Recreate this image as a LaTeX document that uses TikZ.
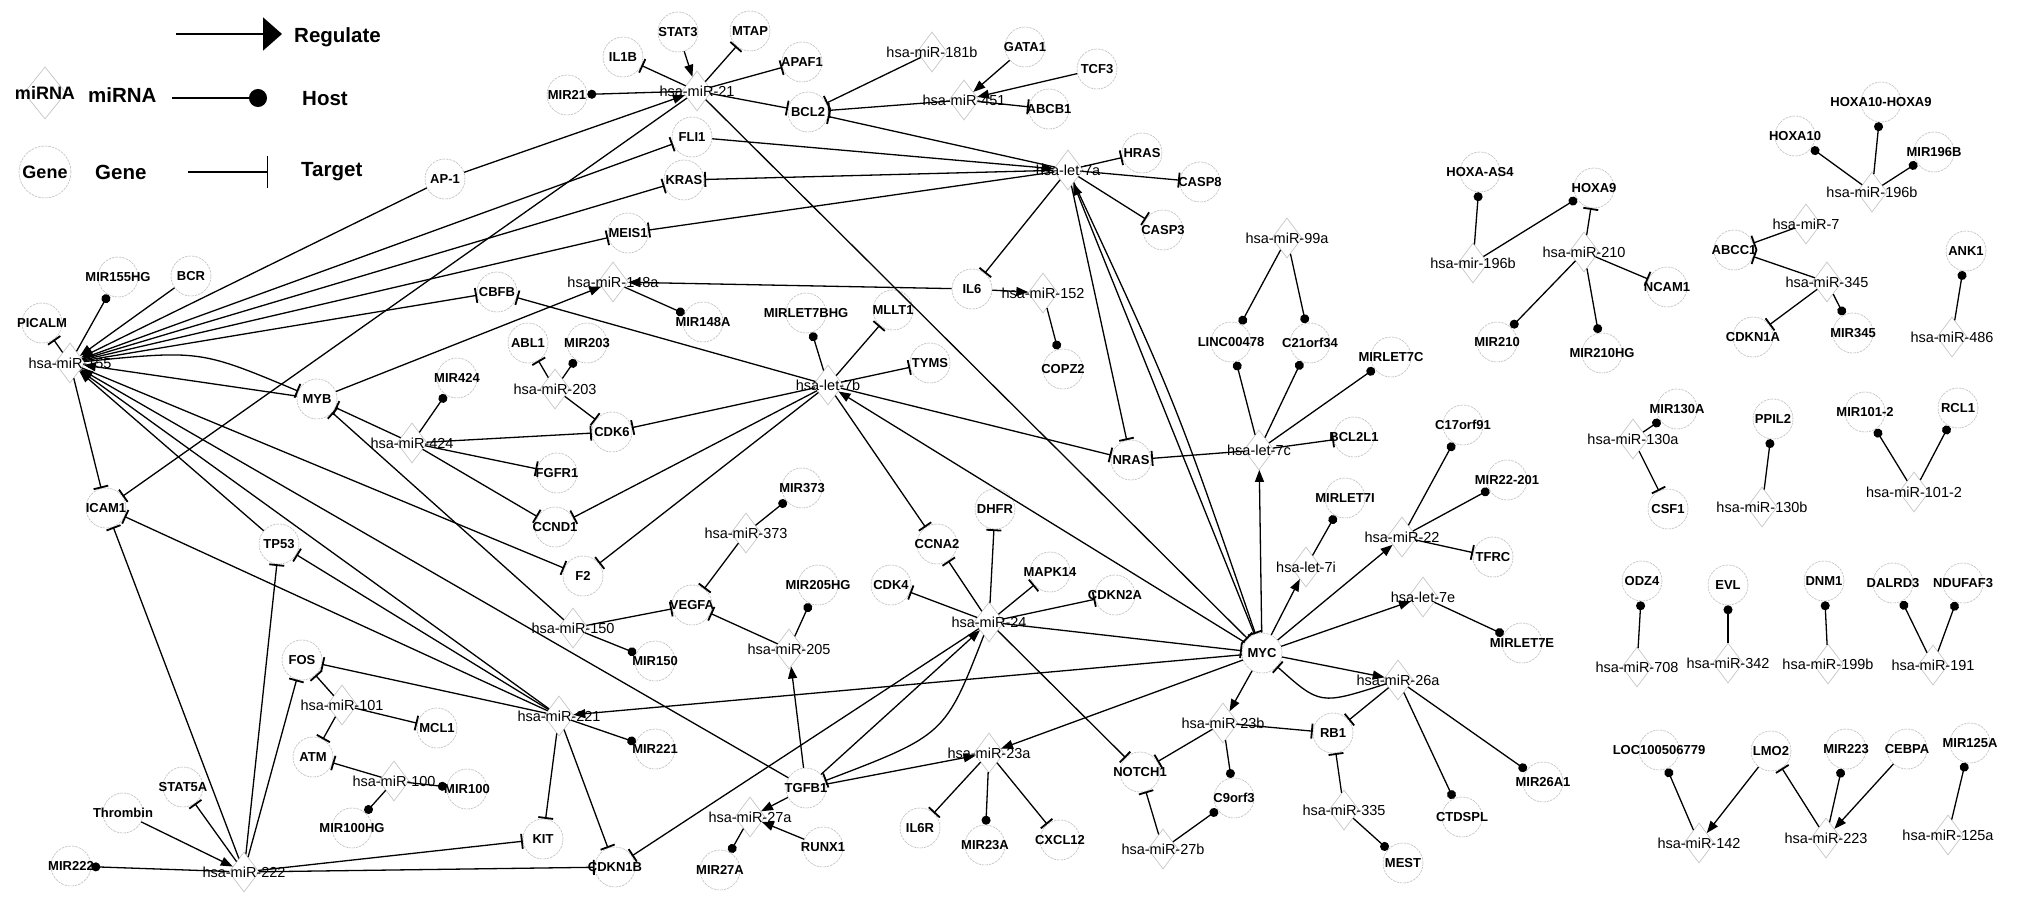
\documentclass[tikz,border=0pt]{standalone}
\usepackage{fontspec}
\setmainfont{Liberation Sans}
\usetikzlibrary{shapes.geometric,arrows.meta}
\newcommand\gn[4]{\node[gene,label={[glab]center:#4}] (#1) at (#2,#3) {};}
\newcommand\mn[4]{\node[mir,label={[mlab]center:#4}] (#1) at (#2,#3) {};}
\newcommand\eTg[2]{\draw[tgt] (#1) -- (#2);}
\newcommand\eHs[2]{\draw[host] (#1) -- (#2);}
\newcommand\eRg[2]{\draw[reg] (#1) -- (#2);}
\begin{document}
\begin{tikzpicture}[x=1pt,y=-1pt,
 gene/.style={circle,draw=gray!50,line width=0.6pt,dash pattern=on 2.5pt off 1pt,minimum size=40pt,inner sep=0pt},
 mir/.style={diamond,draw=gray!50,line width=0.6pt,minimum width=30pt,minimum height=40pt,inner sep=0pt},
 glab/.style={font=\bfseries\fontsize{13}{13}\selectfont,inner sep=0pt},
 mlab/.style={font=\fontsize{14.5}{14.5}\selectfont,inner sep=0pt},
 edge/.style={line width=1.3pt},
 reg/.style={edge,-{Triangle[length=12pt,width=9pt]}},
 host/.style={edge,-{Circle[length=9pt]}},
 tgt/.style={edge,-{Bar[width=15pt,line width=1.8pt]}},
 legt/.style={font=\bfseries\fontsize{20.5}{20.5}\selectfont,anchor=west,inner sep=0pt}
]
\fill[white] (0,0) rectangle (2020,901);
\useasboundingbox (0,0) rectangle (2020,901);

% ---------- legend ----------
\coordinate (lr1) at (176,34); \coordinate (lr2) at (282,34);
\draw[line width=1.8pt,-{Triangle[length=19pt,width=33pt]}] (lr1) -- (lr2);
\node[legt] (lreg) at (294,37) {Regulate};
\node[diamond,draw=gray!50,line width=0.6pt,minimum width=42pt,minimum height=52pt,inner sep=0pt,
  label={[font=\bfseries\fontsize{18}{18}\selectfont,inner sep=0pt]center:miRNA}] (legm) at (45,93) {};
\node[legt] (lmir) at (88,95) {miRNA};
\coordinate (lh1) at (172,98); \coordinate (lh2) at (267,98);
\draw[line width=1.8pt,-{Circle[length=18pt]}] (lh1) -- (lh2);
\node[legt] (lhost) at (302,99) {Host};
\node[circle,draw=gray!50,line width=0.6pt,dash pattern=on 2.5pt off 1pt,minimum size=52pt,inner sep=0pt,
  label={[font=\bfseries\fontsize{18}{18}\selectfont,inner sep=0pt]center:Gene}] (legg) at (45,172) {};
\node[legt] (lgene) at (95,172) {Gene};
\coordinate (lt1) at (188,172); \coordinate (lt2) at (268,172);
\draw[line width=1.2pt,-{Bar[width=32pt,line width=1.5pt]}] (lt1) -- (lt2);
\node[legt] (ltar) at (301,172) {Target};

% ---------- genes ----------
\gn{AP1}{445}{179}{AP-1}
\gn{MIR155HG}{118}{277}{MIR155HG}
\gn{BCR}{191}{276}{BCR}
\gn{CBFB}{497}{292}{CBFB}
\gn{STAT3}{678}{32}{STAT3}
\gn{MTAP}{750}{31}{MTAP}
\gn{IL1B}{623}{57}{IL1B}
\gn{APAF1}{802}{62}{APAF1}
\gn{MIR21}{567}{95}{MIR21}
\gn{GATA1}{1025}{47}{GATA1}
\gn{TCF3}{1097}{69}{TCF3}
\gn{ABCB1}{1049}{109}{ABCB1}
\gn{BCL2}{808}{112}{BCL2}
\gn{FLI1}{692}{137}{FLI1}
\gn{KRAS}{684}{180}{KRAS}
\gn{MEIS1}{628}{233}{MEIS1}
\gn{IL6}{972}{289}{IL6}
\gn{MLLT1}{893}{310}{MLLT1}
\gn{HRAS}{1142}{153}{HRAS}
\gn{CASP8}{1200}{182}{CASP8}
\gn{CASP3}{1163}{230}{CASP3}
\gn{HOXAAS4}{1480}{172}{HOXA-AS4}
\gn{HOXAA}{1881}{102}{HOXA10-HOXA9}
\gn{HOXA10}{1795}{136}{HOXA10}
\gn{MIR196B}{1934}{152}{MIR196B}
\gn{HOXA9}{1594}{188}{HOXA9}
\gn{NCAM1}{1667}{287}{NCAM1}
\gn{ABCC1}{1734}{250}{ABCC1}
\gn{ANK1}{1966}{251}{ANK1}
\gn{PICALM}{42}{323}{PICALM}
\gn{MYB}{317}{399}{MYB}
\gn{MIR424}{457}{378}{MIR424}
\gn{ICAM1}{106}{508}{ICAM1}
\gn{TP53}{279}{544}{TP53}
\gn{MIR148A}{703}{322}{MIR148A}
\gn{MIRLET7BHG}{806}{313}{MIRLET7BHG}
\gn{ABL1}{528}{343}{ABL1}
\gn{MIR203}{587}{343}{MIR203}
\gn{TYMS}{930}{363}{TYMS}
\gn{CDK6}{612}{432}{CDK6}
\gn{FGFR1}{557}{473}{FGFR1}
\gn{CCND1}{555}{527}{CCND1}
\gn{F2}{583}{576}{F2}
\gn{MIR373}{802}{488}{MIR373}
\gn{CCNA2}{937}{544}{CCNA2}
\gn{DHFR}{995}{509}{DHFR}
\gn{CDK4}{891}{585}{CDK4}
\gn{MIR205HG}{818}{585}{MIR205HG}
\gn{VEGFA}{692}{605}{VEGFA}
\gn{COPZ2}{1063}{369}{COPZ2}
\gn{LINC}{1231}{342}{LINC00478}
\gn{C21orf34}{1310}{343}{C21orf34}
\gn{MIRLET7C}{1391}{357}{MIRLET7C}
\gn{BCL2L1}{1354}{437}{BCL2L1}
\gn{NRAS}{1131}{460}{NRAS}
\gn{C17orf91}{1463}{425}{C17orf91}
\gn{MIR22HG}{1507}{480}{MIR22-201}
\gn{MIRLET7I}{1345}{498}{MIRLET7I}
\gn{TFRC}{1493}{557}{TFRC}
\gn{MAPK14}{1050}{572}{MAPK14}
\gn{CDKN2A}{1115}{595}{CDKN2A}
\gn{MIR210}{1497}{342}{MIR210}
\gn{MIR210HG}{1602}{353}{MIR210HG}
\gn{CDKN1A}{1753}{337}{CDKN1A}
\gn{MIR345}{1853}{333}{MIR345}
\gn{MIR130A}{1677}{409}{MIR130A}
\gn{CSF1}{1668}{509}{CSF1}
\gn{PPIL2}{1773}{419}{PPIL2}
\gn{MIR1012}{1865}{412}{MIR101-2}
\gn{RCL1}{1958}{408}{RCL1}
\gn{ODZ4}{1642}{581}{ODZ4}
\gn{EVL}{1728}{585}{EVL}
\gn{DNM1}{1824}{581}{DNM1}
\gn{DALRD3}{1893}{583}{DALRD3}
\gn{NDUFAF3}{1963}{583}{NDUFAF3}
\gn{MIRLET7E}{1522}{643}{MIRLET7E}
\gn{MIR26A1}{1543}{782}{MIR26A1}
\gn{LOC}{1659}{750}{LOC100506779}
\gn{LMO2}{1771}{751}{LMO2}
\gn{MIR223}{1846}{749}{MIR223}
\gn{CEBPA}{1907}{749}{CEBPA}
\gn{MIR125A}{1970}{743}{MIR125A}
\gn{FOS}{302}{660}{FOS}
\gn{MCL1}{437}{728}{MCL1}
\gn{ATM}{313}{757}{ATM}
\gn{MIR100}{467}{789}{MIR100}
\gn{MIR100HG}{352}{828}{MIR100HG}
\gn{STAT5A}{183}{787}{STAT5A}
\gn{Thrombin}{123}{813}{Thrombin}
\gn{MIR222}{71}{866}{MIR222}
\gn{MIR150}{655}{661}{MIR150}
\gn{MIR221}{655}{749}{MIR221}
\gn{TGFB1}{806}{788}{TGFB1}
\gn{RUNX1}{823}{847}{RUNX1}
\gn{MIR27A}{720}{870}{MIR27A}
\gn{KIT}{543}{839}{KIT}
\gn{CDKN1B}{615}{867}{CDKN1B}
\gn{IL6R}{920}{828}{IL6R}
\gn{MIR23A}{985}{845}{MIR23A}
\gn{MYC}{1262}{653}{MYC}
\gn{RB1}{1333}{733}{RB1}
\gn{NOTCH1}{1140}{772}{NOTCH1}
\gn{C9orf3}{1234}{798}{C9orf3}
\gn{CTDSPL}{1462}{817}{CTDSPL}
\gn{CXCL12}{1060}{840}{CXCL12}
\gn{MEST}{1403}{863}{MEST}

% ---------- miRNAs ----------
\mn{m155}{70}{363}{hsa-miR-155}
\mn{m21}{697}{91}{hsa-miR-21}
\mn{m181b}{932}{52}{hsa-miR-181b}
\mn{m451}{964}{100}{hsa-miR-451}
\mn{m148a}{613}{282}{hsa-miR-148a}
\mn{let7a}{1068}{170}{hsa-let-7a}
\mn{m152}{1043}{293}{hsa-miR-152}
\mn{m99a}{1287}{238}{hsa-miR-99a}
\mn{m196bA}{1473}{263}{hsa-mir-196b}
\mn{m196bB}{1872}{192}{hsa-miR-196b}
\mn{m210}{1584}{252}{hsa-miR-210}
\mn{m7}{1806}{224}{hsa-miR-7}
\mn{m345}{1827}{282}{hsa-miR-345}
\mn{m424}{412}{443}{hsa-miR-424}
\mn{m203}{555}{389}{hsa-miR-203}
\mn{let7b}{828}{385}{hsa-let-7b}
\mn{m373}{746}{533}{hsa-miR-373}
\mn{let7c}{1259}{450}{hsa-let-7c}
\mn{let7i}{1306}{567}{hsa-let-7i}
\mn{m22}{1402}{537}{hsa-miR-22}
\mn{let7e}{1423}{597}{hsa-let-7e}
\mn{m486}{1952}{337}{hsa-miR-486}
\mn{m130a}{1633}{439}{hsa-miR-130a}
\mn{m130b}{1762}{507}{hsa-miR-130b}
\mn{m1012}{1914}{492}{hsa-miR-101-2}
\mn{m708}{1637}{667}{hsa-miR-708}
\mn{m342}{1728}{663}{hsa-miR-342}
\mn{m199b}{1828}{664}{hsa-miR-199b}
\mn{m191}{1933}{665}{hsa-miR-191}
\mn{m142}{1699}{843}{hsa-miR-142}
\mn{m223}{1826}{838}{hsa-miR-223}
\mn{m125a}{1948}{835}{hsa-miR-125a}
\mn{m101}{342}{705}{hsa-miR-101}
\mn{m100}{394}{781}{hsa-miR-100}
\mn{m222}{244}{872}{hsa-miR-222}
\mn{m150}{573}{628}{hsa-miR-150}
\mn{m205}{789}{649}{hsa-miR-205}
\mn{m221}{559}{716}{hsa-miR-221}
\mn{m27a}{750}{817}{hsa-miR-27a}
\mn{m24}{989}{622}{hsa-miR-24}
\mn{m23a}{989}{753}{hsa-miR-23a}
\mn{m26a}{1398}{680}{hsa-miR-26a}
\mn{m23b}{1223}{723}{hsa-miR-23b}
\mn{m335}{1344}{810}{hsa-miR-335}
\mn{m27b}{1163}{849}{hsa-miR-27b}

% ---------- edges ----------
% miR-155
\eHs{m155}{MIR155HG}
\eTg{m155}{PICALM}
\eRg{BCR}{m155}
\eRg{AP1}{m155}
\eTg{m155}{FLI1}
\eTg{m155}{KRAS}
\eTg{m155}{MEIS1}
\eTg{m155}{CBFB}
\eTg{m155}{ICAM1}
\draw[tgt] (m155) .. controls (200,350) .. (MYB);
\eRg{MYB}{m155}
\eTg{m155}{F2}
\eRg{TGFB1}{m155}
\eRg{TP53}{m155}
\eRg{m221}{m155}
% miR-21
\eHs{m21}{MIR21}
\eTg{m21}{IL1B}
\eRg{STAT3}{m21}
\eTg{m21}{MTAP}
\eTg{m21}{APAF1}
\eTg{m21}{BCL2}
\eRg{AP1}{m21}
\eTg{m21}{ICAM1}
\eTg{m21}{MYC}
% miR-181b, miR-451
\eTg{m181b}{BCL2}
\eRg{GATA1}{m451}
\eRg{TCF3}{m451}
\eTg{m451}{ABCB1}
\eTg{m451}{BCL2}
% let-7a
\eTg{let7a}{HRAS}
\eTg{let7a}{CASP8}
\eTg{let7a}{CASP3}
\eTg{let7a}{KRAS}
\eTg{let7a}{MEIS1}
\eTg{let7a}{BCL2}
\eTg{let7a}{IL6}
\eTg{let7a}{NRAS}
\eRg{FLI1}{let7a}
\eRg{MYC}{let7a}
\draw[tgt] (let7a) .. controls (1175,400) .. (MYC);
% miR-148a, miR-152
\eHs{m148a}{MIR148A}
\eRg{MYB}{m148a}
\eRg{IL6}{m148a}
\eHs{m152}{COPZ2}
\eRg{IL6}{m152}
% miR-99a, let-7c
\eHs{m99a}{LINC}
\eHs{m99a}{C21orf34}
\eHs{let7c}{LINC}
\eHs{let7c}{C21orf34}
\eHs{let7c}{MIRLET7C}
\eTg{let7c}{BCL2L1}
\eTg{let7c}{NRAS}
\eRg{MYC}{let7c}
% HOX cluster etc.
\eHs{m196bA}{HOXAAS4}
\eHs{m196bA}{HOXA9}
\eTg{m210}{HOXA9}
\eTg{m210}{NCAM1}
\eHs{m210}{MIR210}
\eHs{m210}{MIR210HG}
\eHs{m196bB}{HOXA10}
\eHs{m196bB}{HOXAA}
\eHs{m196bB}{MIR196B}
\eTg{m7}{ABCC1}
\eTg{m345}{ABCC1}
\eTg{m345}{CDKN1A}
\eHs{m345}{MIR345}
\eHs{m486}{ANK1}
\eHs{m130a}{MIR130A}
\eTg{m130a}{CSF1}
\eHs{m130b}{PPIL2}
\eHs{m1012}{MIR1012}
\eHs{m1012}{RCL1}
\eHs{m708}{ODZ4}
\eHs{m342}{EVL}
\eHs{m199b}{DNM1}
\eHs{m191}{DALRD3}
\eHs{m191}{NDUFAF3}
\eHs{m142}{LOC}
\eRg{LMO2}{m142}
\eTg{m223}{LMO2}
\eHs{m223}{MIR223}
\eRg{CEBPA}{m223}
\eHs{m125a}{MIR125A}
% miR-424, miR-203
\eHs{m424}{MIR424}
\eTg{m424}{CDK6}
\eTg{m424}{FGFR1}
\eTg{m424}{CCND1}
\eTg{m424}{MYB}
\eTg{m203}{ABL1}
\eHs{m203}{MIR203}
\eTg{m203}{CDK6}
% let-7b
\eHs{let7b}{MIRLET7BHG}
\eTg{let7b}{MLLT1}
\eTg{let7b}{TYMS}
\eTg{let7b}{CDK6}
\eTg{let7b}{CCND1}
\eTg{let7b}{F2}
\eTg{let7b}{CCNA2}
\eTg{let7b}{NRAS}
\eTg{let7b}{CBFB}
\eRg{MYC}{let7b}
% miR-373, 150, 205
\eHs{m373}{MIR373}
\eTg{m373}{VEGFA}
\eTg{m150}{VEGFA}
\eHs{m150}{MIR150}
\eTg{m150}{MYB}
\eHs{m205}{MIR205HG}
\eTg{m205}{VEGFA}
\eRg{TGFB1}{m205}
% miR-221, 222
\eTg{m221}{TP53}
\eTg{m221}{ICAM1}
\eTg{m221}{FOS}
\eTg{m221}{KIT}
\eTg{m221}{CDKN1B}
\eHs{m221}{MIR221}
\eRg{MYC}{m221}
\eHs{m222}{MIR222}
\eRg{Thrombin}{m222}
\eTg{m222}{STAT5A}
\eTg{m222}{ICAM1}
\eTg{m222}{TP53}
\eTg{m222}{FOS}
\eTg{m222}{KIT}
\eTg{m222}{CDKN1B}
% miR-101, 100
\eTg{m101}{FOS}
\eTg{m101}{MCL1}
\eTg{m101}{ATM}
\eTg{m100}{ATM}
\eHs{m100}{MIR100}
\eHs{m100}{MIR100HG}
% miR-27a
\eRg{TGFB1}{m27a}
\eRg{RUNX1}{m27a}
\eHs{m27a}{MIR27A}
% miR-24
\eTg{m24}{CDK4}
\eTg{m24}{CCNA2}
\eTg{m24}{DHFR}
\eTg{m24}{MAPK14}
\eTg{m24}{CDKN2A}
\eTg{m24}{MYC}
\eTg{m24}{NOTCH1}
\eTg{m24}{CDKN1B}
\eRg{TGFB1}{m24}
\draw[tgt] (m24) .. controls (945,735) .. (TGFB1);
% miR-23a
\eTg{m23a}{IL6R}
\eTg{m23a}{CXCL12}
\eHs{m23a}{MIR23A}
\eRg{TGFB1}{m23a}
\eRg{MYC}{m23a}
% miR-23b, 27b, 335, 26a
\eTg{m23b}{NOTCH1}
\eTg{m23b}{RB1}
\eHs{m23b}{C9orf3}
\eRg{MYC}{m23b}
\eTg{m27b}{NOTCH1}
\eHs{m27b}{C9orf3}
\eTg{m335}{RB1}
\eHs{m335}{MEST}
\eTg{m26a}{RB1}
\eHs{m26a}{CTDSPL}
\eHs{m26a}{MIR26A1}
\eRg{MYC}{m26a}
\draw[tgt] (m26a) .. controls (1320,705) .. (MYC);
% let-7e, miR-22, let-7i
\eHs{let7e}{MIRLET7E}
\eRg{MYC}{let7e}
\eHs{m22}{C17orf91}
\eHs{m22}{MIR22HG}
\eTg{m22}{TFRC}
\eRg{MYC}{m22}
\eHs{let7i}{MIRLET7I}
\eRg{MYC}{let7i}
\end{tikzpicture}
\end{document}
